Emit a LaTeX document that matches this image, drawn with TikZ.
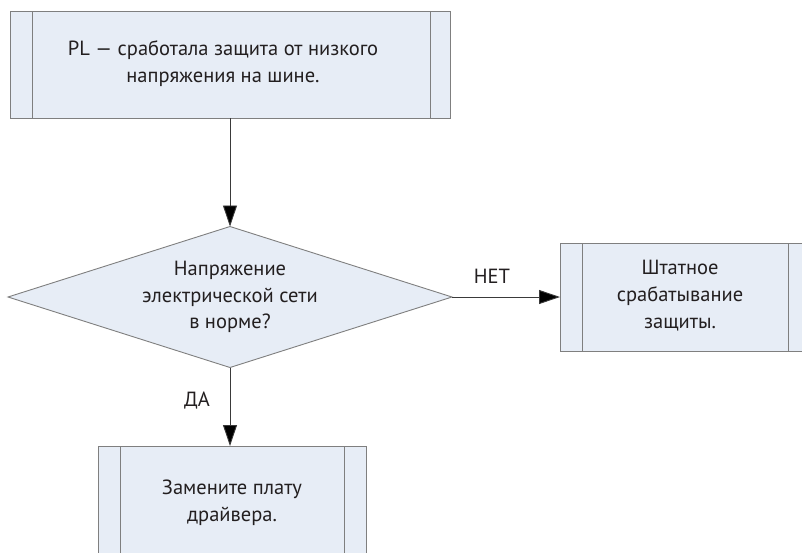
\documentclass[tikz,border=0pt]{standalone}
\usepackage{fontspec}
\setmainfont{PT Sans}
\usetikzlibrary{shapes.geometric,arrows.meta}
\definecolor{boxfill}{HTML}{E7EDF6}
\definecolor{boxdraw}{HTML}{7F7F7F}
\definecolor{linecol}{HTML}{3A3A3A}
\definecolor{txt}{HTML}{231F20}
\tikzset{
  procbox/.style={draw=boxdraw, fill=boxfill, line width=0.9pt, rectangle, inner sep=0pt, outer sep=0pt,
    text=txt, align=center, font=\fontsize{20.5}{27}\selectfont},
  decision/.style={draw=boxdraw, fill=boxfill, line width=0.9pt, diamond, inner sep=0pt, outer sep=0pt,
    text=txt, align=center, font=\fontsize{20.5}{26.5}\selectfont},
  innerline/.style={draw=boxdraw, line width=0.9pt},
  arrowline/.style={draw=linecol, line width=0.9pt, -{Triangle[length=21pt,width=14pt,fill=black]}},
  lbl/.style={text=txt, font=\fontsize{20.5}{27}\selectfont, inner sep=0pt}
}
\begin{document}
\begin{tikzpicture}[x=1pt,y=-1pt]
\useasboundingbox (0,0) rectangle (802,552);
\clip (0,0) rectangle (802,552);
% top box
\node[procbox, minimum width=440pt, minimum height=107pt] (top) at (230,64.5) {};
\node[procbox, draw=none, fill=none] (toptxt) at (223,64) {PL — сработала защита от низкого\\напряжения на шине.};
\draw[innerline] ([xshift=22pt]top.north west) -- ([xshift=22pt]top.south west);
\draw[innerline] ([xshift=-20pt]top.north east) -- ([xshift=-20pt]top.south east);
% decision
\node[decision, minimum width=444pt, minimum height=141pt, aspect=3.15] (dec) at (230,297) {Напряжение\\электрической сети\\в норме?};
% right box
\node[procbox, minimum width=250pt, minimum height=108pt] (right) at (685,297) {};
\node[procbox, draw=none, fill=none] (righttxt) at (680,296) {Штатное\\срабатывание\\защиты.};
\draw[innerline] ([xshift=22pt]right.north west) -- ([xshift=22pt]right.south west);
\draw[innerline] ([xshift=-22pt]right.north east) -- ([xshift=-22pt]right.south east);
% bottom box
\node[procbox, minimum width=268pt, minimum height=110pt] (bot) at (232,501) {};
\node[procbox, draw=none, fill=none] (bottxt) at (232,503) {Замените плату\\драйвера.};
\draw[innerline] ([xshift=22pt]bot.north west) -- ([xshift=22pt]bot.south west);
\draw[innerline] ([xshift=-22pt]bot.north east) -- ([xshift=-22pt]bot.south east);
% connectors
\draw[arrowline] (top.south) -- (dec.north);
\draw[arrowline] (dec.east) -- (right.west);
\draw[arrowline] (dec.south) -- (dec.south |- bot.north);
% labels
\node[lbl] (net) at (492,276) {НЕТ};
\node[lbl] (da) at (197,401) {ДА};
\end{tikzpicture}
\end{document}
